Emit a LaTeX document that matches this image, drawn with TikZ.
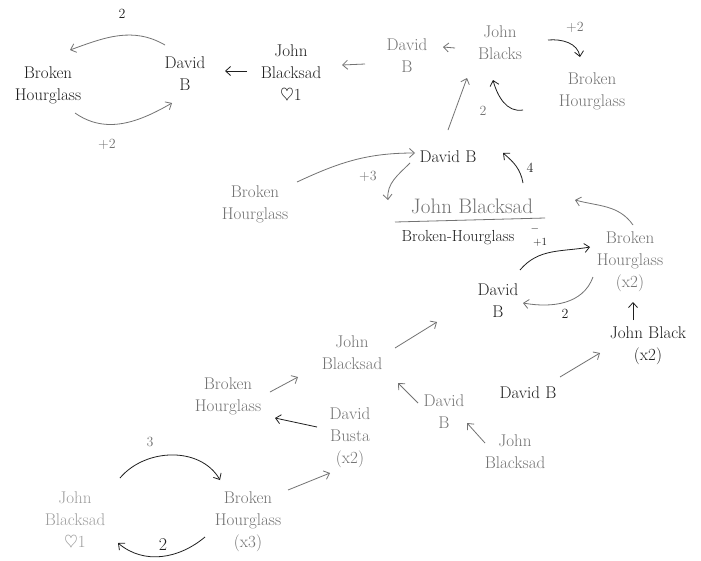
\documentclass[tikz,border=0pt]{standalone}
\usetikzlibrary{arrows.meta}
\definecolor{inkdark}{gray}{0.12}
\definecolor{inkmid}{gray}{0.45}
\definecolor{inklight}{gray}{0.62}
\begin{document}
\begin{tikzpicture}[x=1pt,y=-1pt,
  txt/.style={align=center,font=\fontsize{17}{22}\selectfont,inner sep=1pt},
  dark/.style={txt,text=inkdark},
  pale/.style={txt,text=inkmid},
  faint/.style={txt,text=inklight},
  lbl/.style={align=center,font=\fontsize{14}{16}\selectfont,inner sep=1pt},
  arr/.style={-{Straight Barb[length=5pt,width=9pt]},line width=0.8pt,draw=inkmid},
  arrdark/.style={arr,draw=inkdark}]
\useasboundingbox (0,0) rectangle (701,560);
\fill[white] (0,0) rectangle (701,560);

% top-left cluster
\node[dark] (n1) at (48,85) {Broken\\Hourglass};
\node[dark] (n2) at (185,74) {David\\B};
\node[dark] (n3) at (291,74) {John\\Blacksad\\$\heartsuit$1};
\node[lbl,text=inkdark] (l1) at (122,14) {2};
\node[lbl,text=inkmid] (l2) at (107,144) {+2};

% top-right cluster
\node[pale] (n4) at (407,56) {David\\B};
\node[pale] (n5) at (500,43) {John\\Blacks};
\node[pale] (n6) at (592,91) {Broken\\Hourglass};
\node[lbl,text=inkmid] (l3) at (575,27) {+2};
\node[lbl,text=inkmid] (l4) at (483,111) {2};

% middle cluster
\node[dark] (n7) at (448,157) {David B};
\node[pale] (n8) at (255,204) {Broken\\Hourglass};
\node[pale,font=\fontsize{21}{24}\selectfont] (n9) at (472,206) {John Blacksad};
\node[dark,font=\fontsize{16}{18}\selectfont] (n10) at (458,238) {Broken-Hourglass};
\node[lbl,text=inkdark,font=\fontsize{11}{11}\selectfont] (n11) at (535,229) {$-$};
\node[lbl,text=inkdark,font=\fontsize{11}{11}\selectfont] (n12) at (540,242) {$+1$};
\node[pale] (n13) at (630,262) {Broken\\Hourglass\\(x2)};
\node[lbl,text=inkmid] (l5) at (368,176) {+3};
\node[lbl,text=inkdark] (l6) at (530,168) {4};
\draw[inkmid,line width=0.8pt] (395,222) -- (545,218);

% lower-right cluster
\node[dark] (n14) at (498,301) {David\\B};
\node[dark] (n15) at (648,346) {John Black\\(x2)};
\node[dark] (n16) at (528,393) {David B};
\node[pale] (n17) at (352,353) {John\\Blacksad};
\node[pale] (n18) at (228,396) {Broken\\Hourglass};
\node[pale] (n19) at (350,438) {David\\Busta\\(x2)};
\node[pale] (n20) at (444,412) {David\\B};
\node[pale] (n21) at (515,452) {John\\Blacksad};
\node[lbl,text=inkdark] (l7) at (565,314) {2};

% bottom-left cluster
\node[faint] (n22) at (75,521) {John\\Blacksad\\$\heartsuit$1};
\node[pale] (n23) at (248,522) {Broken\\Hourglass\\(x3)};
\node[lbl,text=inkmid] (l8) at (150,442) {3};
\node[lbl,text=inkdark,font=\fontsize{18}{20}\selectfont] (l9) at (163,545) {2};

% connectors
\draw[arr] ([shift={(-20,-29)}]n2.center) to[out=150,in=20] ([shift={(22,-35)}]n1.center);
\draw[arr] ([shift={(27,28)}]n1.center) to[out=-35,in=210] ([shift={(-13,29)}]n2.center);
\draw[arrdark] ([shift={(-44,-3)}]n3.center) -- ([shift={(40,-3)}]n2.center);
\draw[arr] ([shift={(-42,8)}]n4.center) -- ([shift={(51,-9)}]n3.center);
\draw[arr] ([shift={(-45,5)}]n5.center) -- ([shift={(36,-9)}]n4.center);
\draw[arrdark] ([shift={(48,-3)}]n5.center) to[out=5,in=100] ([shift={(-12,-34)}]n6.center);
\draw[arr] ([shift={(0,-27)}]n7.center) -- ([shift={(-33,35)}]n5.center);
\coordinate (c8) at ([shift={(23,67)}]n5.center);
\draw[arrdark] (c8) to[out=190,in=-75] ([shift={(-7,37)}]n5.center);
\draw[arr] ([shift={(42,-22)}]n8.center) to[out=25,in=180] ([shift={(-33,-4)}]n7.center);
\draw[arr] ([shift={(-38,6)}]n7.center) to[out=225,in=95] ([shift={(-84,-6)}]n9.center);
\draw[arrdark] ([shift={(51,-23)}]n9.center) to[out=100,in=-40] ([shift={(55,-4)}]n7.center);
\draw[arr] ([shift={(3,-37)}]n13.center) to[out=125,in=-15] ([shift={(103,-6)}]n9.center);
\draw[arrdark] ([shift={(22,-31)}]n14.center) to[out=50,in=190] ([shift={(-40,-15)}]n13.center);
\draw[arr] ([shift={(-37,15)}]n13.center) to[out=-110,in=-10] ([shift={(25,2)}]n14.center);
\draw[arrdark] ([shift={(-15,-26)}]n15.center) -- ([shift={(3,40)}]n13.center);
\draw[arr] ([shift={(32,-16)}]n16.center) -- ([shift={(-48,7)}]n15.center);
\draw[arr] ([shift={(43,-5)}]n17.center) -- ([shift={(-61,21)}]n14.center);
\draw[arr] ([shift={(42,-4)}]n18.center) -- ([shift={(-54,24)}]n17.center);
\draw[arrdark] ([shift={(-33,-11)}]n19.center) -- ([shift={(47,22)}]n18.center);
\draw[arr] ([shift={(-26,-9)}]n20.center) -- ([shift={(46,30)}]n17.center);
\draw[arr] ([shift={(-30,-9)}]n21.center) -- ([shift={(23,11)}]n20.center);
\draw[arrdark] ([shift={(45,-43)}]n22.center) to[out=50,in=120] ([shift={(-28,-42)}]n23.center);
\draw[arrdark] ([shift={(-43,15)}]n23.center) to[out=-140,in=-40] ([shift={(43,22)}]n22.center);
\draw[arr] ([shift={(40,-32)}]n23.center) -- ([shift={(-20,35)}]n19.center);
\end{tikzpicture}
\end{document}
